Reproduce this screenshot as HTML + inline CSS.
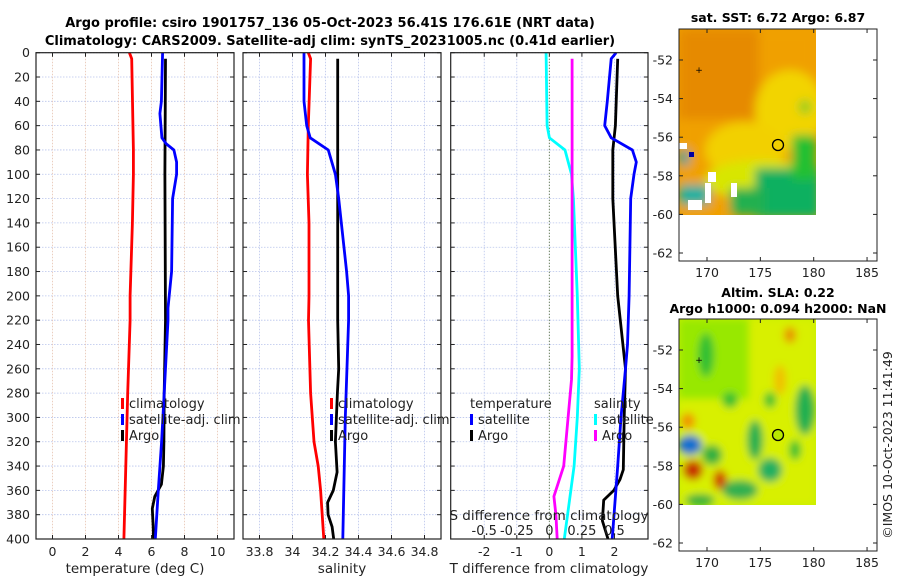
<!DOCTYPE html>
<html><head><meta charset="utf-8">
<style>
html,body{margin:0;padding:0;background:#fff;}
svg{display:block;font-family:"DejaVu Sans","Liberation Sans",sans-serif;}
</style></head>
<body>
<svg id="fig" width="900" height="580" viewBox="0 0 900 580" xmlns="http://www.w3.org/2000/svg">
<defs>
<filter id="blur" x="-10%" y="-10%" width="120%" height="120%"><feGaussianBlur stdDeviation="5"/></filter>
<filter id="blur2" x="-10%" y="-10%" width="120%" height="120%"><feGaussianBlur stdDeviation="4"/></filter>
<clipPath id="c1"><rect x="679" y="29" width="137" height="186"/></clipPath>
<clipPath id="c2"><rect x="679" y="319" width="137" height="186"/></clipPath>
</defs>
<text x="330" y="27" text-anchor="middle" font-weight="bold" font-size="13">Argo profile: csiro 1901757_136 05-Oct-2023 56.41S 176.61E (NRT data)</text>
<text x="330" y="45" text-anchor="middle" font-weight="bold" font-size="13">Climatology: CARS2009. Satellite-adj clim: synTS_20231005.nc (0.41d earlier)</text>
<g id="plots"></g>

<!-- SST map -->
<g>
<text x="778" y="22" text-anchor="middle" font-weight="bold" font-size="12.5">sat. SST: 6.72 Argo: 6.87</text>
<g clip-path="url(#c1)">
<rect x="679" y="29" width="137" height="186" fill="#f0a000"/>
<g filter="url(#blur)">
<rect x="679" y="29" width="137" height="186" fill="#f0a000"/>
<rect x="679" y="29" width="80" height="90" fill="#e68a00"/>
<ellipse cx="790" cy="110" rx="35" ry="40" fill="#f2d400"/>
<ellipse cx="745" cy="150" rx="40" ry="28" fill="#f2d000"/>
<ellipse cx="760" cy="180" rx="55" ry="20" fill="#d8e600"/>
<ellipse cx="805" cy="107" rx="6" ry="7" fill="#7ccc20"/>
<rect x="755" y="168" width="65" height="50" fill="#10b060"/>
<rect x="792" y="135" width="24" height="45" fill="#20c030"/>
<rect x="730" y="188" width="35" height="27" fill="#20b050"/>
<rect x="679" y="185" width="30" height="20" fill="#10b0a0"/>
<rect x="679" y="150" width="10" height="15" fill="#10a0a0"/>
</g>
<rect x="689" y="152" width="5" height="5" fill="#0000a0"/>
<rect x="679" y="143" width="8" height="6" fill="#fff"/>
<rect x="708" y="172" width="8" height="10" fill="#fff"/>
<rect x="705" y="183" width="6" height="20" fill="#fff"/>
<rect x="731" y="183" width="6" height="14" fill="#fff"/>
<rect x="688" y="200" width="14" height="10" fill="#fff"/>
</g>
<rect x="679" y="29" width="198" height="232" fill="none" stroke="#222" stroke-width="1"/>
<circle cx="778" cy="145" r="5.5" fill="none" stroke="#000" stroke-width="1.3"/>
<text x="699" y="73" font-size="9" text-anchor="middle">+</text>
<g id="m1ticks"></g>
</g>

<!-- SLA map -->
<g>
<text x="778" y="297" text-anchor="middle" font-weight="bold" font-size="12.5">Altim. SLA: 0.22</text>
<text x="778" y="313" text-anchor="middle" font-weight="bold" font-size="12.5">Argo h1000: 0.094 h2000: NaN</text>
<g clip-path="url(#c2)">
<rect x="679" y="319" width="137" height="186" fill="#c8f000"/>
<g filter="url(#blur2)">
<rect x="679" y="319" width="137" height="186" fill="#d8f000"/>
<rect x="679" y="319" width="70" height="80" fill="#98e800"/>
<ellipse cx="706" cy="355" rx="8" ry="22" fill="#30c030"/>
<ellipse cx="730" cy="400" rx="8" ry="8" fill="#30c030"/>
<ellipse cx="790" cy="335" rx="6" ry="8" fill="#e89000"/>
<ellipse cx="805" cy="397" rx="7" ry="10" fill="#10b0c0"/>
<ellipse cx="805" cy="410" rx="10" ry="25" fill="#20b050"/>
<ellipse cx="770" cy="400" rx="6" ry="8" fill="#30c030"/>
<ellipse cx="755" cy="440" rx="8" ry="20" fill="#20b050"/>
<ellipse cx="770" cy="470" rx="12" ry="12" fill="#20b060"/>
<ellipse cx="690" cy="445" rx="12" ry="10" fill="#1070d0"/>
<ellipse cx="688" cy="421" rx="7" ry="8" fill="#f09000"/>
<ellipse cx="693" cy="470" rx="10" ry="10" fill="#c83000"/>
<ellipse cx="720" cy="480" rx="7" ry="10" fill="#d04000"/>
<ellipse cx="712" cy="455" rx="10" ry="10" fill="#30b040"/>
<ellipse cx="740" cy="490" rx="18" ry="10" fill="#30b050"/>
<ellipse cx="700" cy="500" rx="15" ry="6" fill="#30b040"/>
<ellipse cx="795" cy="450" rx="6" ry="10" fill="#30c030"/>
<ellipse cx="780" cy="380" rx="6" ry="15" fill="#f0c000"/>
</g>
</g>
<rect x="679" y="319" width="198" height="232" fill="none" stroke="#222" stroke-width="1"/>
<circle cx="778" cy="435" r="5.5" fill="#b8e800" stroke="#000" stroke-width="1.3"/>
<text x="699" y="363" font-size="9" text-anchor="middle">+</text>
<g id="m2ticks"></g>
</g>
<text transform="translate(892,445) rotate(-90)" text-anchor="middle" font-size="12.5" fill="#222">©IMOS 10-Oct-2023 11:41:49</text>
</svg>
<script>
// ---- data ----
const depthTicks = [0,20,40,60,80,100,120,140,160,180,200,220,240,260,280,300,320,340,360,380,400];
const tempTicks = [0,2,4,6,8,10];
const salTicks = [33.8,34,34.2,34.4,34.6,34.8];
const salTickLabels = ["33.8","34","34.2","34.4","34.6","34.8"];
const diffTTicks = [-2,-1,0,1,2];
const diffSTickLabels = ["-0.5","-0.25","0","0.25","0.5"];

const tClimDepth = [0,5,80,100,140,200,220,280,400];
const tClim = [4.66,4.8,4.9,4.9,4.84,4.7,4.7,4.56,4.33];
const tSatDepth = [0,40,50,70,75,80,90,100,120,180,210,220,280,320,360,400];
const tSat = [6.67,6.6,6.51,6.63,6.9,7.36,7.52,7.52,7.28,7.22,7.0,7.0,6.77,6.61,6.41,6.23];
const tArgoDepth = [5,100,220,280,320,340,355,365,375,390,400];
const tArgo = [6.85,6.81,6.85,6.77,6.75,6.72,6.6,6.2,6.05,6.1,6.12];

const sClimDepth = [0,5,60,100,140,200,220,280,320,340,360,400];
const sClim = [34.096,34.11,34.096,34.09,34.1,34.1,34.097,34.11,34.13,34.156,34.17,34.19];
const sSatDepth = [0,40,60,70,80,100,120,180,200,220,300,400];
const sSat = [34.07,34.07,34.086,34.107,34.217,34.26,34.28,34.328,34.34,34.34,34.32,34.305];
const sArgoDepth = [5,220,260,280,320,345,360,370,380,390,400];
const sArgo = [34.274,34.274,34.28,34.272,34.26,34.27,34.247,34.213,34.216,34.24,34.25];

const dTSatDepth = [0,5,40,60,70,80,90,100,120,200,240,260,300,340,400];
const dTSat = [2.05,1.9,1.78,1.7,1.9,2.55,2.67,2.6,2.5,2.45,2.4,2.34,2.2,2.1,1.93];
const dTArgoDepth = [5,60,80,120,200,260,300,343,351,360,368,385,400];
const dTArgo = [2.1,2.03,1.95,1.95,2.1,2.34,2.3,2.27,2.17,1.98,1.67,1.63,1.8];
const dSSatDepth = [0,60,70,80,100,120,200,260,300,340,400];
const dSSat = [-0.025,-0.017,0,0.12,0.17,0.185,0.215,0.23,0.215,0.19,0.115];
const dSArgoDepth = [5,250,269,340,365,380,400];
const dSArgo = [0.175,0.175,0.17,0.11,0.035,0.05,0.06];

const latTicks = [-52,-54,-56,-58,-60,-62];
const lonTicks = [170,175,180,185];

// ---- axes ----
const NS='http://www.w3.org/2000/svg';
const root=document.getElementById('plots');
const TOP=52.7, BOT=539;
const yD = d => TOP + (BOT-TOP)*d/400;
function mk(tag, attrs, parent){const e=document.createElementNS(NS,tag);for(const k in attrs)e.setAttribute(k,attrs[k]);(parent||root).appendChild(e);return e;}
function txt(x,y,s,size,anchor,parent){const t=mk('text',{x:x,y:y,'font-size':size,'text-anchor':anchor||'middle',fill:'#222'},parent);t.textContent=s;return t;}

const panels=[
 {name:'temperature-panel',x0:36,x1:234,lo:-1,hi:11},
 {name:'salinity-panel',x0:243,x1:441,lo:33.7,hi:34.9},
 {name:'difference-panel',x0:450.7,x1:648,lo:-3.03,hi:3.03}
];
panels.forEach(p=>{p.sx=v=>p.x0+(v-p.lo)/(p.hi-p.lo)*(p.x1-p.x0);
 p.g=mk('g',{});
 
 
 depthTicks.forEach(d=>{
  const l=mk('line',{x1:p.x0,x2:p.x1,y1:yD(d),y2:yD(d),stroke:'#b8c4ec','stroke-width':0.8,'stroke-dasharray':'1.5,1.5'},p.g);
  
  
  mk('line',{x1:p.x0,x2:p.x0+4,y1:yD(d),y2:yD(d),stroke:'#222'},p.g);
  mk('line',{x1:p.x1,x2:p.x1-4,y1:yD(d),y2:yD(d),stroke:'#222'},p.g);
 });
});
function vgrid(p,vals,labels,y,color){
 vals.forEach((v,i)=>{const x=p.sx(v);
  const l=mk('line',{x1:x,x2:x,y1:TOP,y2:BOT,stroke:color,'stroke-width':0.8,'stroke-dasharray':'1.5,1.5'},p.g);
  
  
  mk('line',{x1:x,x2:x,y1:BOT,y2:BOT-4,stroke:'#222'},p.g);
  mk('line',{x1:x,x2:x,y1:TOP,y2:TOP+4,stroke:'#222'},p.g);
  const t=txt(x,y,labels[i],12.5,'middle',p.g);
  
  
 });
}
vgrid(panels[0],tempTicks,tempTicks.map(String),556,'#e6c2b0');
vgrid(panels[1],salTicks,salTickLabels,556,'#b8c4ec');
vgrid(panels[2],diffTTicks,diffTTicks.map(String),556,'#b8c4ec');
depthTicks.forEach(d=>{const t=txt(30,yD(d)+4.5,String(d),12.5,'end');
 
 });

function series(p,depths,vals,color,name,scale){
 const pts=depths.map((d,i)=>p.sx(vals[i]*(scale||1)).toFixed(1)+','+yD(d).toFixed(1)).join(' ');
 const e=mk('polyline',{points:pts,fill:'none',stroke:color,'stroke-width':2.8,'stroke-linejoin':'round'},p.g);
 
 
}
const z=mk('line',{x1:panels[2].sx(0),x2:panels[2].sx(0),y1:TOP,y2:BOT,stroke:'#556b2f','stroke-width':1,'stroke-dasharray':'1,2'},panels[2].g);



series(panels[0],tClimDepth,tClim,'#ff0000','temp-climatology-line');
series(panels[0],tArgoDepth,tArgo,'#000000','temp-argo-line');
series(panels[0],tSatDepth,tSat,'#0000ff','temp-satellite-line');
series(panels[1],sClimDepth,sClim,'#ff0000','sal-climatology-line');
series(panels[1],sArgoDepth,sArgo,'#000000','sal-argo-line');
series(panels[1],sSatDepth,sSat,'#0000ff','sal-satellite-line');
series(panels[2],dSSatDepth,dSSat,'#00ffff','sdiff-satellite-line',4);
series(panels[2],dSArgoDepth,dSArgo,'#ff00ff','sdiff-argo-line',4);
series(panels[2],dTArgoDepth,dTArgo,'#000000','tdiff-argo-line');
series(panels[2],dTSatDepth,dTSat,'#0000ff','tdiff-satellite-line');

panels.forEach(p=>{const f=mk('rect',{x:p.x0,y:TOP,width:p.x1-p.x0,height:BOT-TOP,fill:'none',stroke:'#222','stroke-width':1.2},p.g);
 
 });

function legend(x,y,items,name){
 const g=mk('g',{});
 
 
 items.forEach((it,i)=>{const yy=y+i*16;
  if(it[1]) mk('rect',{x:x,y:yy-10,width:3,height:11,fill:it[1]},g);
  txt(x+(it[1]?8:0),yy,it[0],13,'start',g);
 });
}
legend(121,408,[['climatology','#ff0000'],['satellite-adj. clim','#0000ff'],['Argo','#000']],'temp-legend');
legend(330,408,[['climatology','#ff0000'],['satellite-adj. clim','#0000ff'],['Argo','#000']],'sal-legend');
legend(470,408,[['temperature',null],['satellite','#0000ff'],['Argo','#000']],'tdiff-legend');
legend(594,408,[['salinity',null],['satellite','#00ffff'],['Argo','#ff00ff']],'sdiff-legend');
const st=txt(549,520,'S difference from climatology',13.5,'middle');


diffTTicks.forEach((v,i)=>{const t=txt(panels[2].sx(v),535,diffSTickLabels[i],13,'middle');
 
 });
[[135,'temperature (deg C)','temp-axis-title'],[342,'salinity','sal-axis-title'],[549,'T difference from climatology','tdiff-axis-title']].forEach(a=>{
 const t=txt(a[0],573,a[1],13.5,'middle');
 
 });

function mapTicks(gid,top,lat0y){
 const g=document.getElementById(gid);
 latTicks.forEach(l=>{const y=lat0y+(-52-l)*19.3;
  mk('line',{x1:679,x2:683,y1:y,y2:y,stroke:'#222'},g);
  mk('line',{x1:877,x2:873,y1:y,y2:y,stroke:'#222'},g);
  const t=txt(673,y+4.5,String(l),12.5,'end',g);
  
  });
 lonTicks.forEach(l=>{const x=707+(l-170)*10.67;
  mk('line',{x1:x,x2:x,y1:top+232,y2:top+228,stroke:'#222'},g);
  mk('line',{x1:x,x2:x,y1:top,y2:top+4,stroke:'#222'},g);
  const t=txt(x,top+248,String(l),12.5,'middle',g);
  
  });
}
mapTicks('m1ticks',29,60);
mapTicks('m2ticks',319,350);
</script>
</body></html>
